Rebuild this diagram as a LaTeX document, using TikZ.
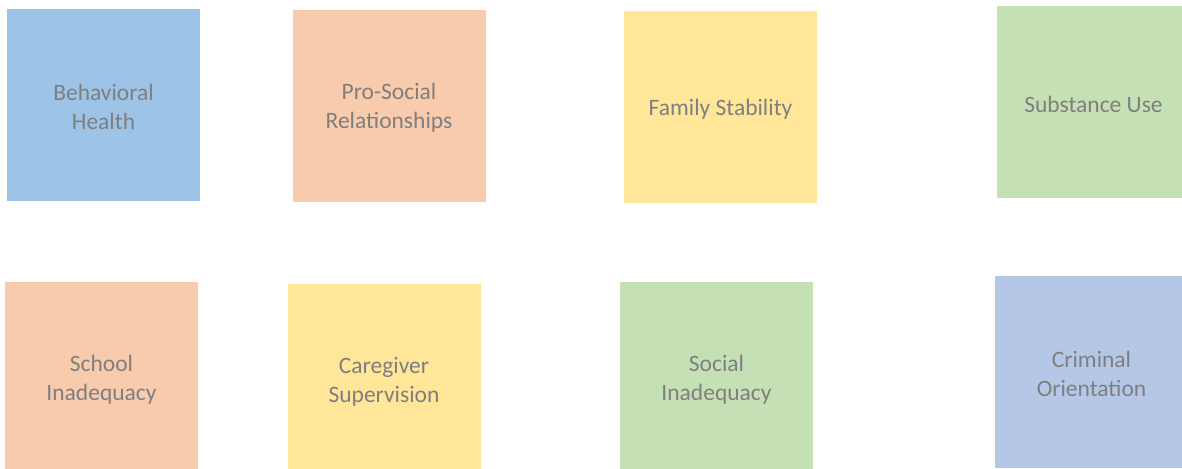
\documentclass[tikz,border=0pt]{standalone}
\usepackage{fontspec}
\setmainfont{Carlito}
\definecolor{cblue}{HTML}{9DC3E6}
\definecolor{cpeach}{HTML}{F8CBAD}
\definecolor{cyellow}{HTML}{FFE699}
\definecolor{cgreen}{HTML}{C5E0B4}
\definecolor{clav}{HTML}{B4C7E7}
\definecolor{ctext}{HTML}{7F7F7F}
\tikzset{
  card/.style={rectangle, draw=none, minimum width=193pt, minimum height=192pt,
    inner sep=0pt},
  cardtext/.style={align=center, text=ctext, inner sep=0pt, yshift=-2pt,
    font=\fontsize{23.5}{29}\selectfont}
}
\begin{document}
\begin{tikzpicture}[x=1pt,y=-1pt]
\path[use as bounding box] (0,0) rectangle (1182,468);
\clip (0,0) rectangle (1182,468);
\fill[white] (0,0) rectangle (1182,468);
\node[card, fill=cblue]   (bh) at (103.5,105)  {};
\node[card, fill=cpeach]  (ps) at (389,106)    {};
\node[card, fill=cyellow] (fs) at (720.5,107)  {};
\node[card, fill=cgreen]  (su) at (1093.5,102) {};
\node[card, fill=cpeach]  (si) at (101.5,378)  {};
\node[card, fill=cyellow] (cs) at (384,380)    {};
\node[card, fill=cgreen]  (so) at (716.5,378)  {};
\node[card, fill=clav]    (co) at (1091.5,372) {};
\node[cardtext] (bht) at (bh.center) {Behavioral\\Health};
\node[cardtext] (pst) at (ps.center) {Pro-Social\\Relationships};
\node[cardtext] (fst) at (fs.center) {Family Stability};
\node[cardtext] (sut) at (su.center) {Substance Use};
\node[cardtext] (sit) at (si.center) {School\\Inadequacy};
\node[cardtext] (cst) at (cs.center) {Caregiver\\Supervision};
\node[cardtext] (sot) at (so.center) {Social\\Inadequacy};
\node[cardtext] (cot) at (co.center) {Criminal\\Orientation};
\end{tikzpicture}
\end{document}
